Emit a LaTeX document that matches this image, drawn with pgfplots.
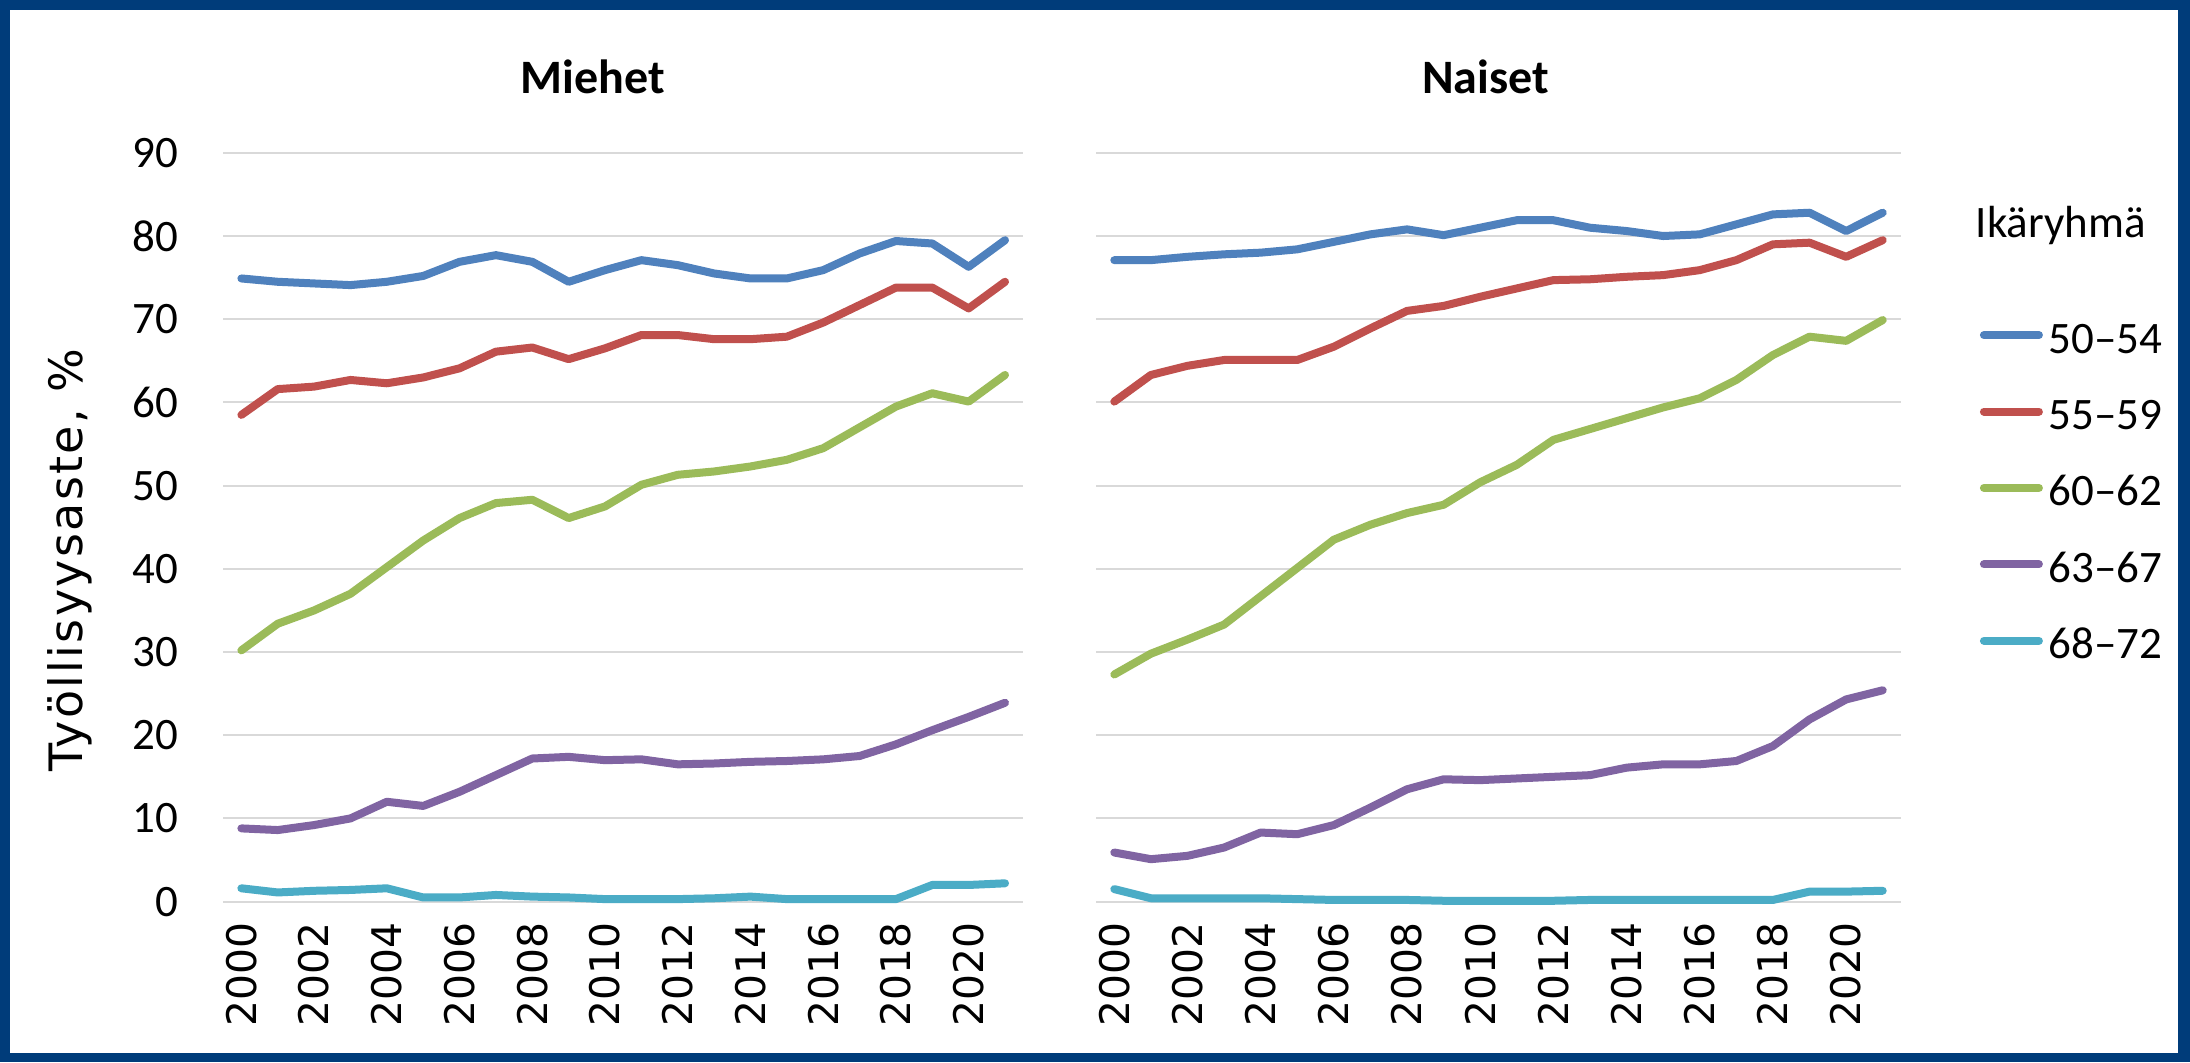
\documentclass[border=0pt]{standalone}
\usepackage{fontspec}
\setmainfont{Carlito}
\newfontfamily\dvs{DejaVu Sans}
\newfontfamily\dvsw[LetterSpace=5]{DejaVu Sans}
\usepackage{pgfplots}
\usepackage{pgfplotstable}
\pgfplotsset{compat=1.18}

\definecolor{frameblue}{RGB}{0,60,122}
\definecolor{gridgray}{HTML}{D9D9D9}
\definecolor{s1}{HTML}{4F81BD}
\definecolor{s2}{HTML}{C0504D}
\definecolor{s3}{HTML}{9BBB59}
\definecolor{s4}{HTML}{8064A2}
\definecolor{s5}{HTML}{4BACC6}

\newcommand\fs{\fontsize{11.25}{13}\selectfont}

% year, 50-54, 55-59, 60-62, 63-67, 68-72
\pgfplotstableread{
year a b c d e
2000 74.9 58.5 30.2  8.8 1.6
2001 74.5 61.6 33.4  8.6 1.1
2002 74.3 61.9 35.0  9.2 1.3
2003 74.1 62.7 37.0 10.0 1.4
2004 74.5 62.3 40.2 12.0 1.6
2005 75.2 63.0 43.4 11.5 0.5
2006 76.9 64.1 46.1 13.2 0.5
2007 77.7 66.1 47.9 15.2 0.8
2008 76.9 66.6 48.3 17.2 0.6
2009 74.5 65.2 46.1 17.4 0.5
2010 75.9 66.5 47.5 17.0 0.3
2011 77.1 68.1 50.1 17.1 0.3
2012 76.5 68.1 51.3 16.5 0.3
2013 75.5 67.6 51.7 16.6 0.4
2014 74.9 67.6 52.3 16.8 0.6
2015 74.9 67.9 53.1 16.9 0.3
2016 75.9 69.6 54.5 17.1 0.3
2017 77.9 71.7 57.0 17.5 0.3
2018 79.4 73.8 59.5 18.9 0.3
2019 79.1 73.8 61.1 20.6 2.0
2020 76.3 71.3 60.1 22.2 2.0
2021 79.5 74.5 63.3 23.9 2.2
}\miehet

\pgfplotstableread{
year a b c d e
2000 77.1 60.1 27.3  5.9 1.5
2001 77.1 63.3 29.8  5.1 0.4
2002 77.5 64.4 31.5  5.5 0.4
2003 77.8 65.1 33.3  6.5 0.4
2004 78.0 65.1 36.7  8.3 0.4
2005 78.4 65.1 40.1  8.1 0.3
2006 79.3 66.7 43.5  9.2 0.2
2007 80.2 68.9 45.3 11.3 0.2
2008 80.8 71.0 46.7 13.5 0.2
2009 80.1 71.6 47.7 14.7 0.1
2010 81.0 72.7 50.4 14.6 0.1
2011 81.9 73.7 52.5 14.8 0.1
2012 81.9 74.7 55.5 15.0 0.1
2013 81.0 74.8 56.8 15.2 0.2
2014 80.6 75.1 58.1 16.1 0.2
2015 80.0 75.3 59.4 16.5 0.2
2016 80.2 75.9 60.5 16.5 0.2
2017 81.4 77.1 62.7 16.9 0.2
2018 82.6 79.0 65.7 18.7 0.2
2019 82.8 79.2 67.9 21.9 1.2
2020 80.6 77.5 67.4 24.3 1.2
2021 82.8 79.5 69.9 25.4 1.3
}\naiset

\pgfplotsset{
  panel/.style={
    scale only axis,
    height=187.2pt,
    xmin=1999.5, xmax=2021.5,
    ymin=0, ymax=90,
    clip=false,
    axis line style={draw=none},
    tick style={draw=none},
    ymajorgrids,
    grid style={draw=gridgray, line width=0.5pt},
    ytick={0,10,...,90},
    xtick={2000,2002,...,2020},
    /pgf/number format/assume math mode=true,
    /pgf/number format/1000 sep={},
    yticklabel style={font=\fs, anchor=east, inner sep=0pt, xshift=-11pt},
    xticklabel style={font=\dvs\fontsize{10.2}{12}\selectfont, rotate=90, anchor=east, inner sep=0pt},
    xticklabel shift=5pt,
    every axis plot/.append style={line width=2pt, line join=round, line cap=round, mark=none},
  },
}

\begin{document}
\begin{tikzpicture}[x=1pt,y=1pt]
\useasboundingbox (0,0) rectangle (547.5,265.5);
\fill[frameblue] (0,0) rectangle (547.5,265.5);
\fill[white] (2.6,2.3) rectangle (544.5,263);

\begin{axis}[panel, width=200pt, at={(55.8pt,40.1pt)}, anchor=south west]
\addplot[s1] table[x=year,y=a]{\miehet};
\addplot[s2] table[x=year,y=b]{\miehet};
\addplot[s3] table[x=year,y=c]{\miehet};
\addplot[s4] table[x=year,y=d]{\miehet};
\addplot[s5] table[x=year,y=e]{\miehet};
\end{axis}

\begin{axis}[panel, width=201.25pt, at={(274pt,40.1pt)}, anchor=south west,
  yticklabels={},
  legend cell align=left,
  legend style={at={(1.098,0.7715)}, anchor=north west, draw=none, fill=none,
    inner sep=0pt, outer sep=0pt, font=\fs, row sep=11.8pt, column sep=1.5pt,
    nodes={inner sep=0pt, text height=7.3pt, text depth=0pt}},
  legend image code/.code={\draw[#1, line width=2pt, line cap=round] (0pt,0.85pt) -- (13.75pt,0.85pt);},
]
\addplot[s1] table[x=year,y=a]{\naiset};
\addlegendentry{50–54}
\addplot[s2] table[x=year,y=b]{\naiset};
\addlegendentry{55–59}
\addplot[s3] table[x=year,y=c]{\naiset};
\addlegendentry{60–62}
\addplot[s4] table[x=year,y=d]{\naiset};
\addlegendentry{63–67}
\addplot[s5] table[x=year,y=e]{\naiset};
\addlegendentry{68–72}
\end{axis}

\node[anchor=base, inner sep=0pt, font=\bfseries\fontsize{12}{14}\selectfont] at (148.2,242) {Miehet};
\node[anchor=base, inner sep=0pt, font=\bfseries\fontsize{12}{14}\selectfont] at (371.4,242) {Naiset};
\node[anchor=base west, inner sep=0pt, font=\fs] at (493.75,206) {Ikäryhmä};
\node[rotate=90, anchor=base, inner sep=0pt, font=\dvsw\fontsize{11.5}{13}\selectfont] at (20.7,125.5) {Työllisyysaste, \%};
\end{tikzpicture}
\end{document}
